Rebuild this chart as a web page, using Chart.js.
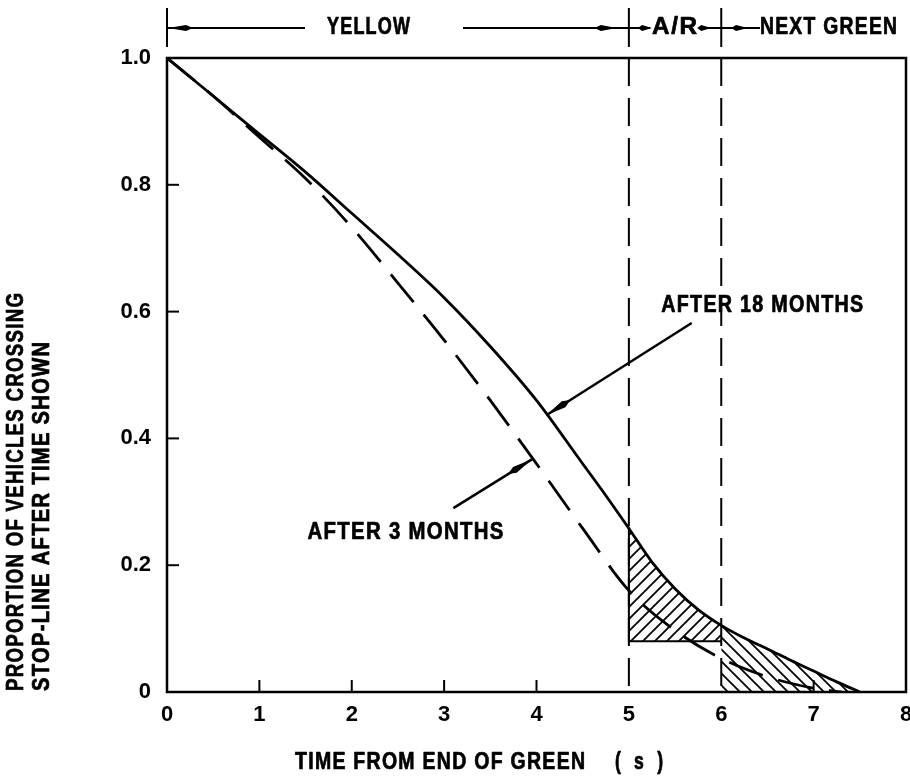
<!DOCTYPE html>
<html>
<head>
<meta charset="utf-8">
<script src="https://cdn.jsdelivr.net/npm/chart.js@4.4.1/dist/chart.umd.min.js"></script>
<style>
  html, body { margin: 0; padding: 0; background: #fff; }
  #wrap { width: 910px; height: 780px; }
</style>
</head>
<body>
<div id="wrap"><canvas id="chart" width="910" height="780"></canvas></div>
<script>
// time from end of green (s) and proportion still crossing
const timeSteps = [0, 0.5, 1, 1.5, 2, 2.5, 3, 3.5, 4, 4.5, 4.75, 5, 5.25, 5.5, 5.75, 6, 6.25, 6.5, 6.75, 7, 7.25, 7.5];
const after18Months = [1.0, 0.94, 0.88, 0.82, 0.755, 0.69, 0.622, 0.545, 0.46, 0.36, 0.31, 0.258, 0.205, 0.163, 0.13, 0.105, 0.085, 0.068, 0.05, 0.033, 0.016, 0.0];
const timeSteps3 = [0, 0.5, 1, 1.5, 2, 2.5, 3, 3.5, 4, 4.5, 5, 5.5, 6, 6.5, 7, 7.3];
const after3Months = [1.0, 0.94, 0.875, 0.81, 0.733, 0.645, 0.555, 0.46, 0.36, 0.258, 0.16, 0.097, 0.053, 0.024, 0.006, 0.0];

// signal phases: yellow 0-5 s, all-red 5-6 s, next green after 6 s
const phaseBounds = [0, 5, 6];
const phaseNames = ['YELLOW', 'A/R', 'NEXT GREEN'];
const arFloor = 0.08;

const xTicks = [0, 1, 2, 3, 4, 5, 6, 7, 8];
const yTicks = [0, 0.2, 0.4, 0.6, 0.8, 1.0];

// annotation arrows, in data units: [tailX, tailY, headX, headY]
const arrow18 = [5.68, 0.582, 4.11, 0.437];
const arrow3 = [3.10, 0.290, 3.95, 0.367];
const label18 = { text: 'AFTER 18 MONTHS', x: 5.35, y: 0.61 };
const label3 = { text: 'AFTER 3 MONTHS', x: 1.52, y: 0.252 };

const FAMILY = '"Liberation Sans", Arial, sans-serif';
const FONT = 'bold 23px ' + FAMILY;

function pts(xs, ys) {
    return xs.map((x, i) => ({ x: x, y: ys[i] }));
}

function hatch(dir) {
    const s = 12;
    const c = document.createElement('canvas');
    c.width = s; c.height = s;
    const g = c.getContext('2d');
    g.strokeStyle = '#000';
    g.lineWidth = 1.8;
    g.beginPath();
    if (dir === '/') {
        g.moveTo(0, s); g.lineTo(s, 0);
        g.moveTo(-2, 2); g.lineTo(2, -2);
        g.moveTo(s - 2, s + 2); g.lineTo(s + 2, s - 2);
    } else {
        g.moveTo(0, 0); g.lineTo(s, s);
        g.moveTo(s - 2, -2); g.lineTo(s + 2, 2);
        g.moveTo(-2, s - 2); g.lineTo(2, s + 2);
    }
    g.stroke();
    return g.createPattern(c, 'repeat');
}

const solidPts = pts(timeSteps, after18Months);
const arPts = solidPts.filter(p => p.x >= 5 && p.x <= 6);
const greenPts = solidPts.filter(p => p.x >= 6);
const solidAt5 = after18Months[timeSteps.indexOf(5)];

function arrowHead(ctx, x1, y1, x2, y2, len, half) {
    const a = Math.atan2(y2 - y1, x2 - x1);
    const bx = x2 - len * Math.cos(a), by = y2 - len * Math.sin(a);
    ctx.beginPath();
    ctx.moveTo(x2, y2);
    ctx.lineTo(bx + half * Math.sin(a), by - half * Math.cos(a));
    ctx.lineTo(bx - len * 0.4 * Math.cos(a), by - len * 0.4 * Math.sin(a));
    ctx.lineTo(bx - half * Math.sin(a), by + half * Math.cos(a));
    ctx.closePath();
    ctx.fill();
}

function line(ctx, x1, y1, x2, y2) {
    ctx.beginPath();
    ctx.moveTo(x1, y1);
    ctx.lineTo(x2, y2);
    ctx.stroke();
}

// narrow lettering: text is squeezed horizontally to the given width
function text(ctx, s, x, y, width, align) {
    ctx.save();
    ctx.font = FONT;
    ctx.letterSpacing = '1.5px';
    ctx.textAlign = 'left';
    ctx.textBaseline = 'middle';
    ctx.lineWidth = 0.7;
    ctx.lineJoin = 'round';
    const w = ctx.measureText(s).width - 1.5;
    const k = width / w;
    const left = align === 'center' ? x - width / 2 : x;
    ctx.translate(left, y);
    ctx.scale(k, 1);
    ctx.fillText(s, 0, 0);
    ctx.strokeText(s, 0, 0);
    ctx.restore();
}

const decorations = {
    id: 'decorations',
    afterDatasetsDraw(chart) {
        const ctx = chart.ctx;
        const a = chart.chartArea;
        const xs = chart.scales.x, ys = chart.scales.y;
        ctx.save();
        ctx.strokeStyle = '#000';
        ctx.fillStyle = '#000';
        ctx.lineCap = 'butt';

        // frame
        ctx.lineWidth = 2.5;
        ctx.strokeRect(a.left, a.top, a.right - a.left, a.bottom - a.top);

        // inward ticks
        ctx.lineWidth = 2;
        xTicks.forEach(v => {
            if (v === 0 || v === 8 || phaseBounds.includes(v)) return;
            const px = xs.getPixelForValue(v);
            line(ctx, px, a.bottom, px, a.bottom - 12);
        });
        yTicks.forEach(v => {
            if (v === 0 || v === 1) return;
            const py = ys.getPixelForValue(v);
            line(ctx, a.left, py, a.left + 12, py);
        });

        // phase band above the plot
        const bandY = 28;
        const p0 = xs.getPixelForValue(phaseBounds[0]);
        const p5 = xs.getPixelForValue(phaseBounds[1]);
        const p6 = xs.getPixelForValue(phaseBounds[2]);
        ctx.lineWidth = 2;
        [p0, p5, p6].forEach(px => line(ctx, px, 8, px, 47));
        line(ctx, p0, bandY, 305, bandY);
        arrowHead(ctx, 220, bandY, p0 + 1, bandY, 18, 3);
        line(ctx, 463, bandY, p5, bandY);
        arrowHead(ctx, 560, bandY, p5 - 12, bandY, 16, 3);
        line(ctx, p5, bandY, 650, bandY);
        arrowHead(ctx, p5, bandY, 652, bandY, 10, 3);
        line(ctx, 700, bandY, p6, bandY);
        arrowHead(ctx, 700, bandY, p6 - 10, bandY, 10, 3);
        line(ctx, p6, bandY, 760, bandY);
        arrowHead(ctx, p6, bandY, 748, bandY, 12, 3);
        text(ctx, phaseNames[0], 327, bandY, 83, 'left');
        text(ctx, phaseNames[1], 652, bandY, 45, 'left');
        text(ctx, phaseNames[2], 760, bandY, 137, 'left');

        // curve annotations
        ctx.lineWidth = 2.5;
        [arrow18, arrow3].forEach(ar => {
            const x1 = xs.getPixelForValue(ar[0]), y1 = ys.getPixelForValue(ar[1]);
            const x2 = xs.getPixelForValue(ar[2]), y2 = ys.getPixelForValue(ar[3]);
            line(ctx, x1, y1, x2, y2);
            arrowHead(ctx, x1, y1, x2, y2, 20, 3.5);
        });
        text(ctx, label18.text, xs.getPixelForValue(label18.x), ys.getPixelForValue(label18.y), 202, 'left');
        text(ctx, label3.text, xs.getPixelForValue(label3.x), ys.getPixelForValue(label3.y), 196, 'left');

        // axis titles
        text(ctx, 'TIME FROM END OF GREEN', 295, 763, 290, 'left');
        text(ctx, '(  s  )', 615, 763, 48, 'left');
        ctx.save();
        ctx.translate(17, 691);
        ctx.rotate(-Math.PI / 2);
        text(ctx, 'PROPORTION OF VEHICLES CROSSING', 0, 0, 398, 'left');
        ctx.restore();
        ctx.save();
        ctx.translate(43, 691);
        ctx.rotate(-Math.PI / 2);
        text(ctx, 'STOP-LINE AFTER TIME SHOWN', 0, 0, 349, 'left');
        ctx.restore();

        ctx.restore();
    }
};

const lineBase = {
    pointRadius: 0,
    borderColor: '#000',
    fill: false
};

new Chart(document.getElementById('chart'), {
    type: 'line',
    data: {
        datasets: [
            {
                ...lineBase,
                data: arPts,
                borderWidth: 0,
                borderColor: 'transparent',
                cubicInterpolationMode: 'monotone',
                fill: { value: arFloor },
                backgroundColor: hatch('/')
            },
            {
                ...lineBase,
                data: greenPts,
                borderWidth: 0,
                borderColor: 'transparent',
                cubicInterpolationMode: 'monotone',
                fill: 'origin',
                backgroundColor: hatch('\\')
            },
            {
                ...lineBase,
                data: [{ x: 5, y: solidAt5 }, { x: 5, y: arFloor }, { x: 6, y: arFloor }],
                borderWidth: 2,
                tension: 0
            },
            {
                ...lineBase,
                data: [{ x: phaseBounds[1], y: 1 }, { x: phaseBounds[1], y: 0 }],
                borderWidth: 2,
                borderDash: [28, 12],
                tension: 0
            },
            {
                ...lineBase,
                data: [{ x: phaseBounds[2], y: 1 }, { x: phaseBounds[2], y: 0 }],
                borderWidth: 2,
                borderDash: [28, 12],
                tension: 0
            },
            {
                ...lineBase,
                label: 'After 3 months',
                data: pts(timeSteps3, after3Months),
                borderWidth: 2.8,
                borderDash: [36, 16],
                cubicInterpolationMode: 'monotone'
            },
            {
                ...lineBase,
                label: 'After 18 months',
                data: solidPts,
                borderWidth: 2.8,
                cubicInterpolationMode: 'monotone'
            }
        ]
    },
    options: {
        responsive: false,
        animation: false,
        events: [],
        layout: { padding: { top: 58, right: 4, left: 0, bottom: 0 } },
        plugins: { legend: { display: false }, tooltip: { enabled: false } },
        scales: {
            x: {
                type: 'linear',
                min: 0,
                max: 8,
                afterBuildTicks: s => { s.ticks = xTicks.map(v => ({ value: v })); },
                ticks: {
                    color: '#000',
                    padding: 10,
                    maxRotation: 0,
                    autoSkip: false,
                    font: { family: FAMILY, size: 22, weight: 'bold' },
                    callback: v => String(v)
                },
                grid: { display: false, drawTicks: false },
                border: { display: false },
                afterFit: s => { s.height = 88; s.paddingLeft = 0; s.paddingRight = 0; }
            },
            y: {
                type: 'linear',
                min: 0,
                max: 1,
                afterBuildTicks: s => { s.ticks = yTicks.map(v => ({ value: v })); },
                ticks: {
                    color: '#000',
                    padding: 16,
                    autoSkip: false,
                    font: { family: FAMILY, size: 22, weight: 'bold' },
                    callback: v => (v === 0 ? '0' : v.toFixed(1))
                },
                grid: { display: false, drawTicks: false },
                border: { display: false },
                afterFit: s => { s.width = 167; s.paddingTop = 0; s.paddingBottom = 0; }
            }
        }
    },
    plugins: [decorations]
});
</script>
</body>
</html>
